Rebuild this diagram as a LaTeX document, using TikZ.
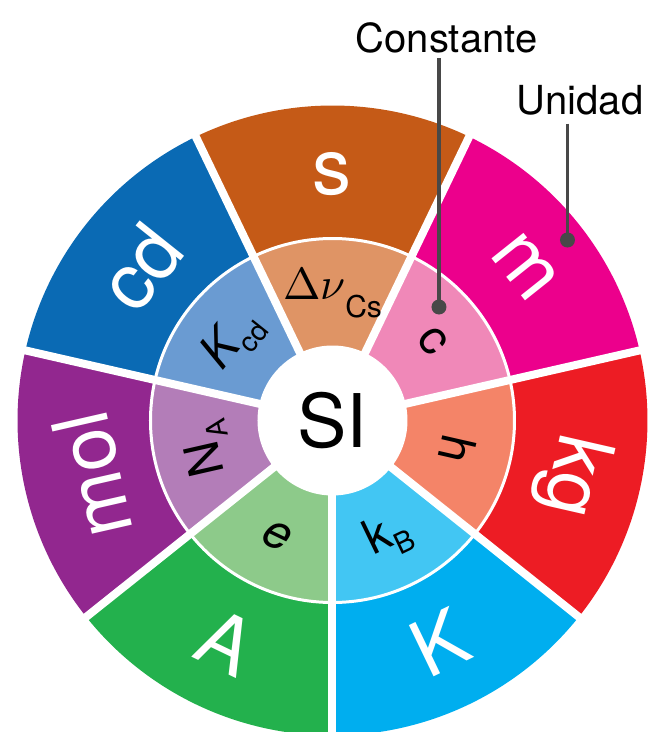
\documentclass[tikz,border=0pt]{standalone}
\usepackage{fontspec}
\usepackage{unicode-math}
\setmainfont{TeX Gyre Heros}
\setmathfont{Latin Modern Math}
\definecolor{cS}{RGB}{197,90,23}
\definecolor{cSi}{RGB}{223,148,101}
\definecolor{cM}{RGB}{236,0,140}
\definecolor{cMi}{RGB}{240,136,184}
\definecolor{cKG}{RGB}{237,28,36}
\definecolor{cKGi}{RGB}{244,132,104}
\definecolor{cK}{RGB}{0,174,239}
\definecolor{cKi}{RGB}{66,198,243}
\definecolor{cA}{RGB}{35,177,77}
\definecolor{cAi}{RGB}{141,202,138}
\definecolor{cMOL}{RGB}{146,39,143}
\definecolor{cMOLi}{RGB}{179,125,184}
\definecolor{cCD}{RGB}{10,106,180}
\definecolor{cCDi}{RGB}{106,155,210}
\definecolor{leadgray}{RGB}{72,72,72}
\begin{document}
\begin{tikzpicture}[
  outerlbl/.style={text=white, font=\fontsize{78}{78}\selectfont, inner sep=0pt},
  innerlbl/.style={text=black, font=\fontsize{48}{48}\selectfont, inner sep=0pt},
  gapline/.style={white, line width=8pt},
  ringline/.style={white, line width=3pt},
  leader/.style={draw=leadgray, line width=3.8pt},
  leaddot/.style={circle, fill=leadgray, minimum size=15pt, inner sep=0pt},
  tag/.style={font=\fontsize{40}{40}\selectfont, anchor=base, inner sep=0pt},
  hub/.style={circle, fill=white, minimum size=150pt, inner sep=0pt, font=\fontsize{74}{74}\selectfont}
]
\useasboundingbox (-332.5pt,-311.5pt) rectangle (321.5pt,420.5pt);
% sectors
\foreach \a/\oc/\ic in {90/cS/cSi, 141.4286/cCD/cCDi, 192.8571/cMOL/cMOLi, 244.2857/cA/cAi, 295.7143/cK/cKi, 347.1429/cKG/cKGi, 38.5714/cM/cMi}{
  \fill[\oc] (\a-25.7143:182pt) arc[start angle=\a-25.7143, end angle=\a+25.7143, radius=182pt]
     -- (\a+25.7143:315pt) arc[start angle=\a+25.7143, end angle=\a-25.7143, radius=315pt] -- cycle;
  \fill[\ic] (\a-25.7143:70pt) arc[start angle=\a-25.7143, end angle=\a+25.7143, radius=70pt]
     -- (\a+25.7143:182pt) arc[start angle=\a+25.7143, end angle=\a-25.7143, radius=182pt] -- cycle;
}
% gaps
\foreach \b in {12.8571, 64.2857, 115.7143, 167.1429, 218.5714, 270, 321.4286}{
  \draw[gapline] (0pt,0pt) -- (\b:318pt);
}
\draw[ringline] (0pt,0pt) circle (182pt);
% hub
\node[hub] (si) at (0pt,0pt) {SI};
% outer labels (units)
\node[outerlbl] (us) at (90:246pt) {s};
\node[outerlbl, rotate=-51.43] (um) at (38.57:246pt) {m};
\node[outerlbl, rotate=-102.86] (ukg) at (-12.86:246pt) {kg};
\node[outerlbl, rotate=25.71] (uK) at (295.71:246pt) {K};
\node[outerlbl, rotate=-25.71] (uA) at (244.29:246pt) {A};
\node[outerlbl, rotate=102.86] (umol) at (192.86:246pt) {mol};
\node[outerlbl, rotate=51.43] (ucd) at (141.43:246pt) {cd};
% inner labels (constants)
\node[innerlbl, font=\fontsize{45}{45}\selectfont] (kdnu) at (90:128pt) {$\Delta\nu$\raisebox{-0.4em}{\fontsize{30}{30}\selectfont Cs}};
\node[innerlbl, rotate=-51.43] (kc) at (38.57:128pt) {c};
\node[innerlbl, rotate=-102.86] (kh) at (-12.86:128pt) {h};
\node[innerlbl, rotate=25.71] (kkb) at (295.71:128pt) {k\raisebox{-0.25em}{\fontsize{29}{29}\selectfont B}};
\node[innerlbl, rotate=-25.71] (ke) at (244.29:128pt) {\itshape e};
\node[innerlbl, rotate=102.86] (kna) at (192.86:128pt) {N\raisebox{-0.25em}{\fontsize{28}{28}\selectfont A}};
\node[innerlbl, rotate=51.43] (kkcd) at (141.43:128pt) {\itshape K\upshape\raisebox{-0.25em}{\fontsize{28}{28}\selectfont cd}};
% leaders
\node[tag] (const) at (114pt,367.5pt) {Constante};
\coordinate (ctop) at (106.5pt,362pt);
\node[leaddot] (cdot) at (106.5pt,113.5pt) {};
\draw[leader] (ctop) -- (cdot.center);
\node[tag] (unid) at (247.5pt,305.5pt) {Unidad};
\coordinate (utop) at (235pt,297pt);
\node[leaddot] (udot) at (235pt,180.5pt) {};
\draw[leader] (utop) -- (udot.center);
\end{tikzpicture}
\end{document}
